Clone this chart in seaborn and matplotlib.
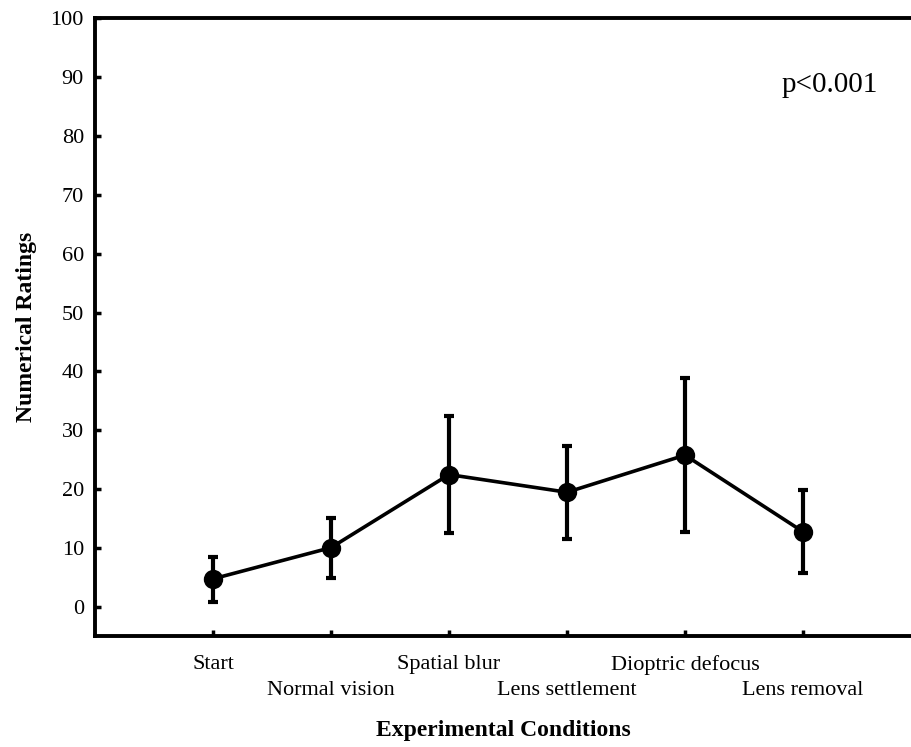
import matplotlib
matplotlib.use("Agg")
import matplotlib.pyplot as plt
import matplotlib.transforms as mtransforms
import seaborn as sns
import pandas as pd
import numpy as np

conditions = ["Start", "Normal vision", "Spatial blur", "Lens settlement",
              "Dioptric defocus", "Lens removal"]
means = [4.8, 10.1, 22.5, 19.5, 25.8, 12.8]
lower = [0.9, 5.0, 12.5, 11.5, 12.8, 5.8]
upper = [8.5, 15.1, 32.4, 27.4, 38.9, 19.8]
yticks = [0, 10, 20, 30, 40, 50, 60, 70, 80, 90, 100]

sns.set_theme(style="ticks")
plt.rcParams["font.family"] = ["Liberation Serif", "DejaVu Serif"]
plt.rcParams["text.color"] = "black"
plt.rcParams["axes.labelcolor"] = "black"

df = pd.DataFrame({"cond": conditions, "val": means})

fig = plt.figure(figsize=(9.12, 7.47), dpi=100)
ax = fig.add_axes([95/912, (747-636)/747, 1 - 95/912, (636-18)/747])

x = np.arange(len(conditions))
yerr = np.array([np.array(means) - np.array(lower), np.array(upper) - np.array(means)])
ax.errorbar(x, means, yerr=yerr, fmt="none", ecolor="black", elinewidth=3,
            capsize=3.5, capthick=3, zorder=2)
sns.pointplot(data=df, x="cond", y="val", color="black", errorbar=None,
              markers="o", markersize=12, linewidth=2.6, ax=ax, zorder=3)

ax.set_xlim(-1, (912 - 213) / 118)
ax.set_ylim(-4.9, 100)
ax.set_yticks(yticks)
ax.set_xticks(x)
ax.set_xticklabels(conditions)

for s in ["left", "bottom", "top"]:
    ax.spines[s].set_linewidth(2.8)
    ax.spines[s].set_color("black")
ax.spines["right"].set_visible(False)

ax.tick_params(axis="both", direction="in", length=4, width=2.5, colors="black",
               labelsize=16, labelcolor="black")
ax.tick_params(axis="x", pad=14)
ax.tick_params(axis="y", pad=8)

# stagger every second category label onto a lower row
offset = mtransforms.ScaledTranslation(0, -26 / 100, fig.dpi_scale_trans)
for i, lab in enumerate(ax.get_xticklabels()):
    if i % 2 == 1:
        lab.set_transform(lab.get_transform() + offset)

ax.set_xlabel("Experimental Conditions", fontsize=17, fontweight="bold", labelpad=14)
ax.set_ylabel("Numerical Ratings", fontsize=17, fontweight="bold", labelpad=10)

ax.text(5.23, 88.7, "p<0.001", fontsize=21, ha="center", va="center")

fig.savefig("out.png", dpi=100)
